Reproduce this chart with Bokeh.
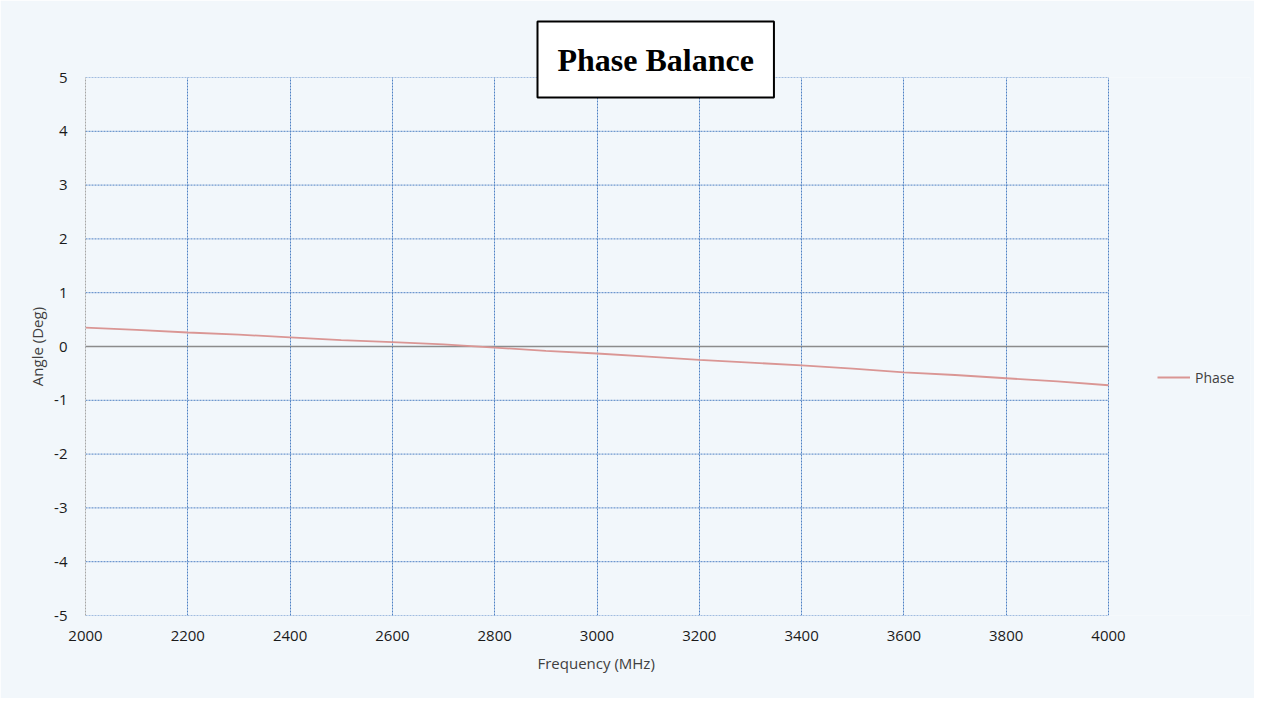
from bokeh.plotting import figure
from bokeh.models import Title, Legend, LegendItem, FixedTicker, PrintfTickFormatter
from bokeh.embed import file_html
from bokeh.resources import INLINE

# ---- data ----
freq_mhz = [2000, 2100, 2200, 2300, 2400, 2500, 2600, 2700, 2800, 2900, 3000,
            3100, 3200, 3300, 3400, 3500, 3600, 3700, 3800, 3900, 4000]
phase_deg = [0.35, 0.31, 0.26, 0.22, 0.17, 0.12, 0.08, 0.04, -0.02, -0.08, -0.13,
             -0.19, -0.25, -0.30, -0.35, -0.41, -0.48, -0.53, -0.59, -0.65, -0.72]
x_ticks = [2000, 2200, 2400, 2600, 2800, 3000, 3200, 3400, 3600, 3800, 4000]
y_ticks = [-5, -4, -3, -2, -1, 0, 1, 2, 3, 4, 5]
title_text = "Phase Balance"
series_name = "Phase"
x_label = "Frequency (MHz)"
y_label = "Angle (Deg)"

BG = "#F2F7FB"
GRID = "#4F81C4"
TEXT = "#404040"
FONT = "Open Sans"

# layout: plot area 85..1108 px holds 2000..4000 MHz; the frame is widened to
# the right so the legend can sit inside it
W, H = 1254, 698
FRAME_L, FRAME_R, PLOT_R = 85, 1250, 1108
FRAME_T, FRAME_B = 77, 615
x_min, x_max = x_ticks[0], x_ticks[-1]
x_end = x_min + (x_max - x_min) * (FRAME_R - FRAME_L) / (PLOT_R - FRAME_L)

p = figure(width=W, height=H, output_backend="svg", toolbar_location=None,
           x_range=(x_min, x_end), y_range=(y_ticks[0], y_ticks[-1]),
           min_border_left=FRAME_L, min_border_right=W - FRAME_R,
           min_border_top=FRAME_T, min_border_bottom=H - FRAME_B, title=None)

p.background_fill_color = BG
p.border_fill_color = BG
p.outline_line_color = None

# axes
p.xaxis.ticker = FixedTicker(ticks=x_ticks)
p.yaxis.ticker = FixedTicker(ticks=y_ticks)
p.yaxis.formatter = PrintfTickFormatter(format="%d")
p.xaxis.formatter = PrintfTickFormatter(format="%d")
for ax in (p.xaxis, p.yaxis):
    ax.major_tick_line_color = None
    ax.minor_tick_line_color = None
    ax.major_tick_out = 0
    ax.major_tick_in = 0
    ax.major_label_text_font = FONT
    ax.major_label_text_font_size = "15px"
    ax.major_label_text_color = "#1a1a1a"
    ax.axis_label_text_font = FONT
    ax.axis_label_text_font_size = "15px"
    ax.axis_label_text_font_style = "normal"
    ax.axis_label_text_color = TEXT
p.xaxis.axis_line_color = None
p.yaxis.axis_line_color = "#A6A6A6"
p.yaxis.axis_line_dash = "2 1"
p.xaxis.major_label_standoff = 15
p.yaxis.major_label_standoff = 18
p.yaxis.axis_label = y_label
p.yaxis.axis_label_standoff = 4

xtitle = Title(text=x_label, align="left", offset=452,
               text_font=FONT, text_font_size="15px", text_font_style="normal",
               text_color=TEXT, standoff=15)
p.add_layout(xtitle, "below")

# grid: vertical lines from the grid model, horizontal ones limited to the plot area
p.xgrid.ticker = FixedTicker(ticks=x_ticks)
p.xgrid.bounds = (x_min, x_max)
p.xgrid.grid_line_color = GRID
p.xgrid.grid_line_dash = "2 1"
p.ygrid.visible = False
p.segment(x0=x_min, x1=x_max, y0=y_ticks, y1=y_ticks,
          line_color=GRID, line_dash="2 1", line_width=1)
# horizontal axis line at 0
p.segment(x0=[x_min], x1=[x_max], y0=[0], y1=[0], line_color="#8C8C8C", line_width=1.5)

r = p.line(freq_mhz, phase_deg, line_color="#DA9694", line_width=1.8)

legend = Legend(items=[LegendItem(label=series_name, renderers=[r])],
                location=(1157 - FRAME_L, 228), glyph_width=33, label_standoff=5,
                padding=0, margin=0, border_line_color=None,
                background_fill_alpha=0, label_text_font=FONT,
                label_text_font_size="14px", label_text_color=TEXT)
p.add_layout(legend, "center")

title = Title(text=title_text, align="left", offset=537 - FRAME_L,
              text_font="Liberation Serif", text_font_style="bold",
              text_font_size="32px", text_color="black",
              background_fill_color="white", border_line_color="black",
              border_line_width=2, padding=20, standoff=-40)
p.add_layout(title, "above")

open("out.html", "w").write(file_html(p, INLINE))
